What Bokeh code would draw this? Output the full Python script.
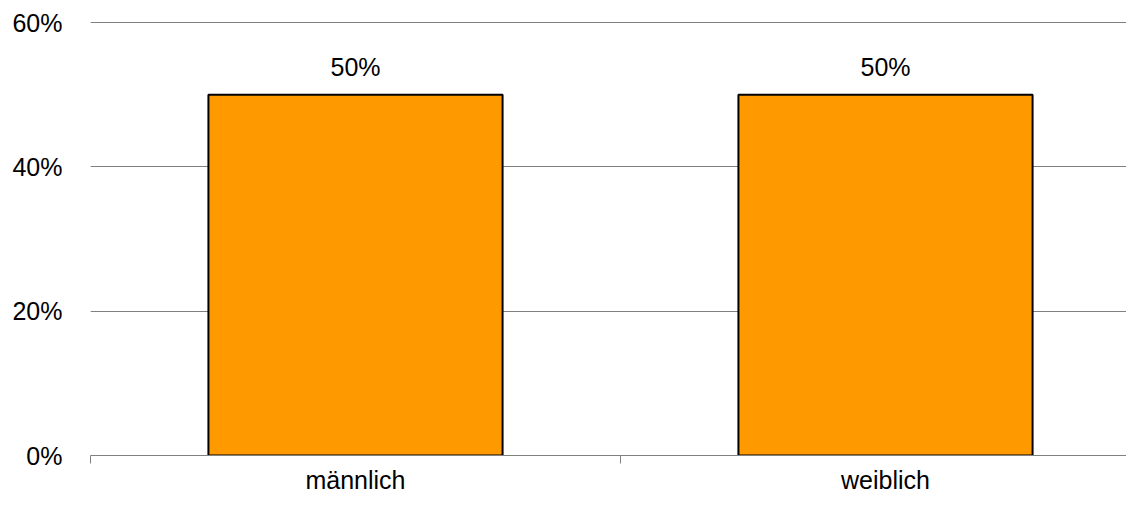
from bokeh.plotting import figure
from bokeh.models import Range1d, FixedTicker, ColumnDataSource
from bokeh.core.properties import value
from bokeh.embed import file_html
from bokeh.resources import INLINE

categories = ["männlich", "weiblich"]
values = [50, 50]
value_labels = ["50%", "50%"]
y_ticks = [0, 20, 40, 60]
y_tick_labels = ["0%", "20%", "40%", "60%"]

FONT = "Liberation Sans"
FS = "25px"

xs = [i + 0.5 for i in range(len(categories))]
src = ColumnDataSource(dict(x=xs, top=values, label=value_labels))

W, H = 1126, 496
left, right, top_b, bottom_b = 90, 0, 15, 41
frame_w = W - left - right
Y_END = 61

p = figure(width=W, height=H, output_backend="svg", toolbar_location=None,
           x_range=Range1d(0, frame_w / 530.0), y_range=Range1d(0, Y_END),
           min_border_left=left, min_border_right=right,
           min_border_top=top_b, min_border_bottom=bottom_b)
p.outline_line_color = None
p.background_fill_color = "white"
p.border_fill_color = "white"

p.ygrid.ticker = FixedTicker(ticks=[20, 40, 60])
p.ygrid.grid_line_color = "#808080"
p.ygrid.grid_line_width = 1
p.xgrid.grid_line_color = None

p.vbar(x="x", top="top", width=0.555, bottom=0, source=src,
       fill_color="#FF9900", line_color="black", line_width=2)

p.text(x="x", y="top", text="label", source=src, text_align="center",
       text_baseline="alphabetic", y_offset=-28, text_font=value(FONT),
       text_font_size=FS, text_color="black")

# y axis
p.yaxis.ticker = FixedTicker(ticks=y_ticks)
p.yaxis.major_label_overrides = {t: l for t, l in zip(y_ticks, y_tick_labels)}
p.yaxis.axis_line_color = None
p.yaxis.major_tick_line_color = None
p.yaxis.minor_tick_line_color = None
p.yaxis.major_tick_out = 0
p.yaxis.major_tick_in = 0
p.yaxis.major_label_standoff = 28
p.yaxis.major_label_text_font = FONT
p.yaxis.major_label_text_font_size = FS
p.yaxis.major_label_text_color = "black"

# x axis: category labels centred under bars, separator ticks between
p.xaxis.ticker = FixedTicker(ticks=xs, minor_ticks=[0, 1, 2])
p.xaxis.major_label_overrides = {x: c for x, c in zip(xs, categories)}
p.xaxis.axis_line_color = "#808080"
p.xaxis.axis_line_width = 1
p.xaxis.major_tick_line_color = None
p.xaxis.major_tick_out = 0
p.xaxis.major_tick_in = 0
p.xaxis.major_label_standoff = 2
p.xaxis.minor_tick_line_color = "#808080"
p.xaxis.minor_tick_out = 8
p.xaxis.minor_tick_in = 0
p.xaxis.major_label_text_font = FONT
p.xaxis.major_label_text_font_size = FS
p.xaxis.major_label_text_color = "black"

open("out.html", "w").write(file_html(p, INLINE))
